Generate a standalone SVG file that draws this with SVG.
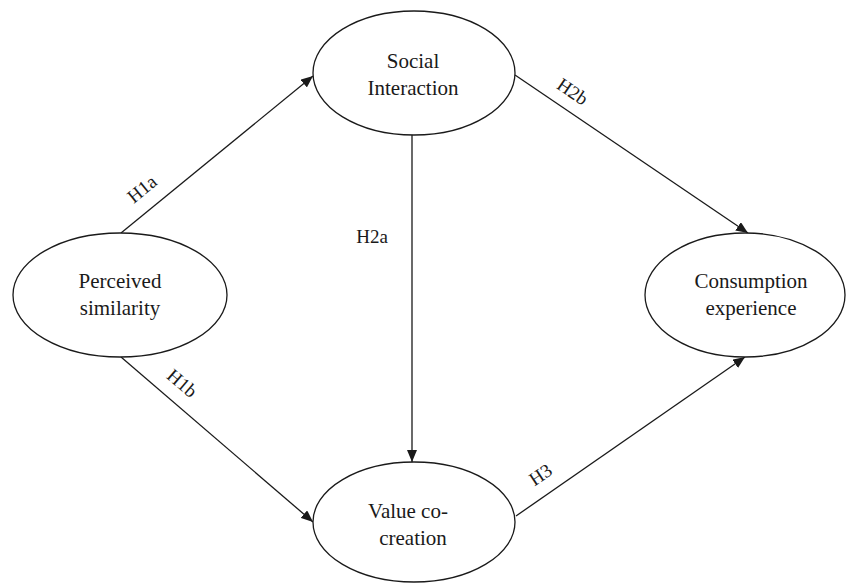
<svg xmlns="http://www.w3.org/2000/svg" width="846" height="583" viewBox="0 0 846 583">
  <style>
    .node ellipse { fill: #ffffff; stroke: #1a1a1a; stroke-width: 1.3; }
    .node text { font-family: "Liberation Serif", "Times New Roman", serif; font-size: 21px; fill: #1a1a1a; text-anchor: middle; }
    .edge line { stroke: #1a1a1a; stroke-width: 1.3; marker-end: url(#arrow); }
    .lbl { font-family: "Liberation Serif", "Times New Roman", serif; font-size: 19px; fill: #1a1a1a; text-anchor: middle; }
  </style>
  <defs>
    <marker id="arrow" markerUnits="userSpaceOnUse" markerWidth="12" markerHeight="10" refX="12" refY="5" orient="auto">
      <path d="M0,0 L12,5 L0,10 z" fill="#1a1a1a"/>
    </marker>
  </defs>
  <rect width="846" height="583" fill="#ffffff"/>

  <!-- connectors -->
  <g id="connectors">
    <g class="edge" id="e-h1a"><line x1="121" y1="233" x2="313" y2="76"/></g>
    <g class="edge" id="e-h1b"><line x1="121" y1="357" x2="313" y2="522"/></g>
    <g class="edge" id="e-h2a"><line x1="412" y1="135" x2="412" y2="462"/></g>
    <g class="edge" id="e-h2b"><line x1="515" y1="75" x2="748" y2="233"/></g>
    <g class="edge" id="e-h3"><line x1="516" y1="516" x2="745" y2="357"/></g>
    <text class="lbl" transform="translate(146,194) rotate(-39)">H1a</text>
    <text class="lbl" transform="translate(178,388) rotate(40.5)">H1b</text>
    <text class="lbl" x="372" y="243">H2a</text>
    <text class="lbl" transform="translate(569,97) rotate(34)">H2b</text>
    <text class="lbl" transform="translate(544,480) rotate(-34)">H3</text>
  </g>

  <!-- nodes -->
  <g class="node" id="perceived-similarity">
    <ellipse cx="120" cy="295" rx="107" ry="62"/>
    <text x="120" y="288">Perceived</text>
    <text x="120" y="315">similarity</text>
  </g>
  <g class="node" id="social-interaction">
    <ellipse cx="414" cy="73" rx="101" ry="62"/>
    <text x="413" y="68">Social</text>
    <text x="413" y="95">Interaction</text>
  </g>
  <g class="node" id="value-co-creation">
    <ellipse cx="414" cy="522" rx="101" ry="60"/>
    <text x="408" y="518">Value co-</text>
    <text x="413" y="545">creation</text>
  </g>
  <g class="node" id="consumption-experience">
    <ellipse cx="745" cy="295" rx="100" ry="62"/>
    <text x="751" y="288">Consumption</text>
    <text x="751" y="315">experience</text>
  </g>
</svg>
